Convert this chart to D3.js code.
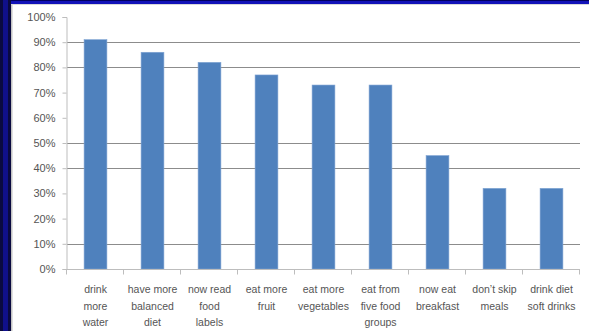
<!DOCTYPE html>
<html><head><meta charset="utf-8">
<script src="https://cdn.jsdelivr.net/npm/d3@7"></script>
<style>html,body{margin:0;padding:0;background:#fff;overflow:hidden}svg{display:block}</style>
</head><body>
<svg id="c" width="589" height="331"></svg>
<script>
const categories = [
  ["drink","more","water"],
  ["have more","balanced","diet"],
  ["now read","food","labels"],
  ["eat more","fruit"],
  ["eat more","vegetables"],
  ["eat from","five food","groups"],
  ["now eat","breakfast"],
  ["don\u2019t skip","meals"],
  ["drink diet","soft drinks"]
];
const values = [0.91, 0.86, 0.82, 0.77, 0.73, 0.73, 0.45, 0.32, 0.32];
const yTicks = [0,0.1,0.2,0.3,0.4,0.5,0.6,0.7,0.8,0.9,1.0];
const gridTicks = [0.9,0.8,0.5,0.4,0.1];

const svg = d3.select("#c");
// frame
svg.append("rect").attr("x",0).attr("y",0).attr("width",589).attr("height",4).attr("fill","#1212b8");
svg.append("rect").attr("x",0).attr("y",0).attr("width",589).attr("height",1).attr("fill","#000060");
svg.append("rect").attr("x",0).attr("y",0).attr("width",11).attr("height",331).attr("fill","#0a0a40");
svg.append("rect").attr("x",3).attr("y",0).attr("width",5).attr("height",331).attr("fill","#10108a");
svg.append("rect").attr("x",11).attr("y",4).attr("width",1.5).attr("height",327).attr("fill","#c4c4c4");
svg.append("rect").attr("x",11).attr("y",4).attr("width",578).attr("height",1).attr("fill","#d8d8d8");

const x0 = 67, x1 = 580, yTop = 17, yBot = 269;
const x = d3.scaleBand().domain(d3.range(categories.length)).range([x0,x1]).paddingInner(0.6).paddingOuter(0.3);
const xb = d3.scaleBand().domain(d3.range(categories.length)).range([x0,x1]);
const y = d3.scaleLinear().domain([0,1]).range([yBot,yTop]);

// gridlines
svg.append("g").selectAll("line").data(gridTicks).join("line")
  .attr("x1",x0).attr("x2",x1).attr("y1",d=>Math.round(y(d))+0.5).attr("y2",d=>Math.round(y(d))+0.5)
  .attr("stroke","#8c8c8c").attr("stroke-width",1);

// y axis
const ya = svg.append("g").attr("transform",`translate(${x0-0.5},0)`)
  .call(d3.axisLeft(y).tickValues(yTicks).tickFormat(d3.format(".0%")).tickSize(4).tickPadding(7));
ya.select(".domain").attr("stroke","#bdbdbd");
ya.selectAll(".tick line").attr("stroke","#bdbdbd");
ya.selectAll("text").attr("font-family","Liberation Sans, Arial, sans-serif").attr("font-size","11px").attr("fill","#555");

// bars
svg.append("g").selectAll("rect").data(values).join("rect")
  .attr("x",(d,i)=>x(i)).attr("width",x.bandwidth())
  .attr("y",d=>y(d)).attr("height",d=>yBot-y(d))
  .attr("fill","#4f81bd").attr("stroke","#7fa3d3").attr("stroke-width",0.6);

// x axis
const xa = svg.append("g").attr("transform",`translate(0,${yBot+0.5})`);
xa.append("line").attr("x1",x0).attr("x2",x1).attr("stroke","#bdbdbd");
xa.selectAll("line.t").data(d3.range(categories.length+1)).join("line").attr("class","t")
  .attr("x1",i=>Math.round(x0+i*xb.step())-0.5).attr("x2",i=>Math.round(x0+i*xb.step())-0.5)
  .attr("y1",0).attr("y2",5).attr("stroke","#bdbdbd");

const lab = svg.append("g").selectAll("text").data(categories).join("text")
  .attr("text-anchor","middle")
  .attr("font-family","Liberation Sans, Arial, sans-serif").attr("font-size","10.5px").attr("fill","#555")
  .attr("transform",(d,i)=>`translate(${xb(i)+xb.bandwidth()/2},0)`);
lab.selectAll("tspan").data(d=>d).join("tspan")
  .attr("x",0).attr("y",(d,j)=>293+j*16.5).text(d=>d);
</script>
</body></html>
